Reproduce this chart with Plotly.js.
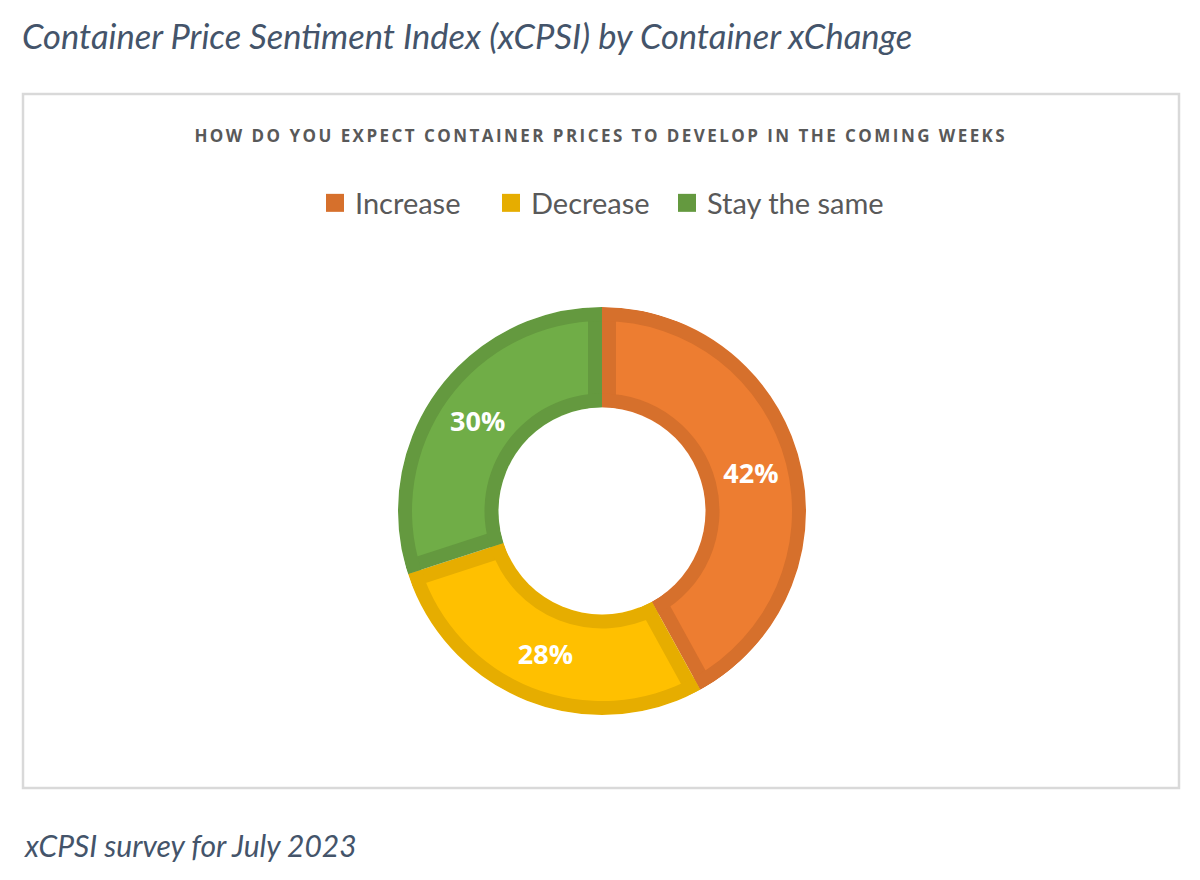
<!DOCTYPE html>
<html>
<head>
<meta charset="utf-8">
<script src="https://cdn.plot.ly/plotly-3.0.1.min.js"></script>
<style>
html,body{margin:0;padding:0;background:#ffffff;}
/* spaced-out capitals of the question heading */
.annotation[data-index="0"] text{letter-spacing:2.45px;}
/* larger legend squares, and let the last legend entry show in full */
.legend path.legendpie{d:path("M9,9H-9V-9H9Z");}
.legend .scrollbox{clip-path:none !important;}
</style>
</head>
<body>
<div id="chart" style="width:1200px;height:880px;"></div>
<script>
// ---- data ----
const categories = ['Increase', 'Decrease', 'Stay the same'];
const shares = [42, 28, 30];
const fillColors = ['#ED7D31', '#FFC000', '#70AD47'];
const edgeColors = ['#D6702C', '#E6AD00', '#64993F'];
const chartTitle = 'Container Price Sentiment Index (xCPSI) by Container xChange';
const questionTitle = 'HOW DO YOU EXPECT CONTAINER PRICES TO DEVELOP IN THE COMING WEEKS';
const footnote = 'xCPSI survey for July 2023';

// ---- geometry (pixels) ----
const W = 1200, H = 880;
const CX = 602, CY = 511;
const R_OUT = 204, R_IN = 103.5, BAND = 14, R_LIGHT = 196;
function dom(r) {
  return { x: [(CX - r) / W, (CX + r) / W], y: [1 - (CY + r) / H, 1 - (CY - r) / H] };
}
const total = shares.reduce((a, b) => a + b, 0);
// pull each light slice outwards so its straight edges sit BAND px inside the slice boundaries
const pullFrac = shares.map(s => (BAND / Math.sin(Math.PI * s / total)) / R_LIGHT);
const maxPull = Math.max(...pullFrac);

const common = {
  type: 'pie', labels: categories, values: shares,
  sort: false, direction: 'clockwise', rotation: 0
};

// 1. dark base ring (also supplies the legend squares)
const baseRing = Object.assign({}, common, {
  hole: R_IN / R_OUT, domain: dom(R_OUT),
  marker: { colors: edgeColors, line: { width: 0 } },
  textinfo: 'none', hoverinfo: 'skip', showlegend: true
});
// 2. lighter slice interiors
const interiors = Object.assign({}, common, {
  hole: 0, domain: dom(R_LIGHT * (1 + maxPull)), pull: pullFrac,
  marker: { colors: fillColors, line: { width: 0 } },
  textinfo: 'none', hoverinfo: 'skip', showlegend: false
});
// 3. outer dark rim
const outerRim = Object.assign({}, common, {
  hole: (R_OUT - BAND) / R_OUT, domain: dom(R_OUT),
  marker: { colors: edgeColors, line: { width: 0 } },
  textinfo: 'none', hoverinfo: 'skip', showlegend: false
});
// 4. inner dark rim
const innerRim = Object.assign({}, common, {
  hole: R_IN / (R_IN + BAND), domain: dom(R_IN + BAND),
  marker: { colors: edgeColors, line: { width: 0 } },
  textinfo: 'none', hoverinfo: 'skip', showlegend: false
});
// 5/6. white masks
const holeMask = {
  type: 'pie', labels: ['hole mask'], values: [1], sort: false,
  domain: dom(R_IN),
  marker: { colors: ['#ffffff'], line: { width: 0 } },
  textinfo: 'none', hoverinfo: 'skip', showlegend: false
};
const outerMask = {
  type: 'pie', labels: ['outer mask'], values: [1], sort: false,
  domain: dom(R_OUT + 22),
  marker: { colors: ['rgba(0,0,0,0)'], line: { color: '#ffffff', width: 44 } },
  textinfo: 'none', hoverinfo: 'skip', showlegend: false
};
// 7. labels + hover on top
const labelsRing = Object.assign({}, common, {
  hole: R_IN / R_OUT, domain: dom(R_OUT),
  marker: { colors: ['rgba(0,0,0,0)', 'rgba(0,0,0,0)', 'rgba(0,0,0,0)'], line: { width: 0 } },
  texttemplate: '%{value}%',
  textposition: 'inside',
  insidetextorientation: 'horizontal',
  textfont: { family: 'Open Sans', size: 27, color: '#ffffff', weight: 'bold' },
  hovertemplate: '%{label}: %{value}%<extra></extra>',
  showlegend: false
});

const layout = {
  width: W, height: H,
  margin: { l: 0, r: 0, t: 0, b: 0 },
  paper_bgcolor: '#ffffff',
  plot_bgcolor: '#ffffff',
  title: {
    text: chartTitle,
    x: 22 / W, xanchor: 'left', xref: 'paper',
    y: 1 - 37 / H, yanchor: 'middle', yref: 'paper',
    font: { family: 'Lato', size: 34.5, style: 'italic', color: '#44546A' }
  },
  showlegend: true,
  legend: {
    orientation: 'h',
    x: 315 / W, xanchor: 'left',
    y: 1 - 203 / H, yanchor: 'middle',
    entrywidth: 131, entrywidthmode: 'pixels',
    font: { family: 'Lato', size: 29, color: '#595959' },
    traceorder: 'normal',
    itemclick: false, itemdoubleclick: false
  },
  shapes: [{
    type: 'rect', xref: 'paper', yref: 'paper',
    x0: 23 / W, x1: 1179 / W, y0: 1 - 788 / H, y1: 1 - 94 / H,
    line: { color: '#D9D9D9', width: 2.5 }, fillcolor: 'rgba(0,0,0,0)', layer: 'below'
  }],
  annotations: [
    {
      text: questionTitle, showarrow: false,
      xref: 'paper', yref: 'paper', x: 601 / W, y: 1 - 135 / H,
      xanchor: 'center', yanchor: 'middle',
      font: { family: 'Open Sans', size: 17, color: '#595959', weight: 'bold' }
    },
    {
      text: footnote, showarrow: false,
      xref: 'paper', yref: 'paper', x: 22 / W, y: 1 - 845 / H,
      xanchor: 'left', yanchor: 'middle',
      font: { family: 'Lato', size: 30, style: 'italic', color: '#44546A' }
    }
  ]
};

Plotly.newPlot('chart',
  [baseRing, interiors, outerRim, innerRim, holeMask, outerMask, labelsRing],
  layout, { displayModeBar: false });
</script>
</body>
</html>
